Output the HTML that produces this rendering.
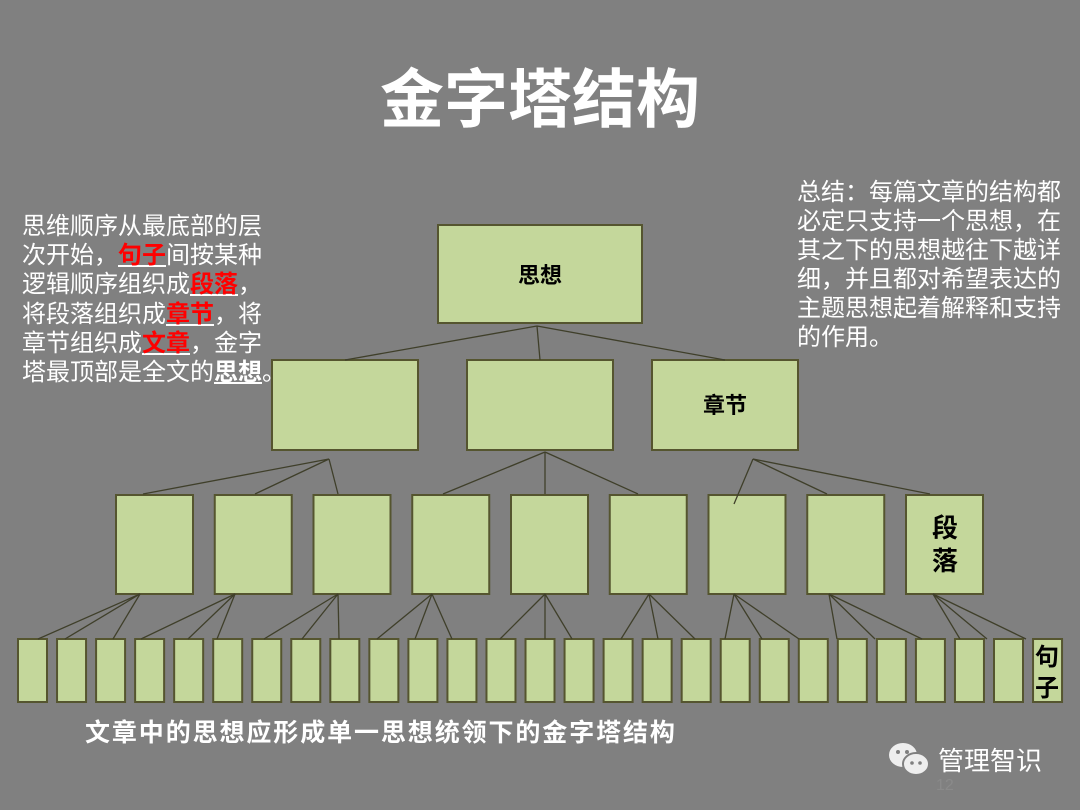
<!DOCTYPE html>
<html><head><meta charset="utf-8"><style>
body{margin:0;width:1080px;height:810px;background:#808080;overflow:hidden;position:relative;font-family:"Liberation Sans","Noto Sans CJK SC",sans-serif;}
.t{position:absolute;white-space:nowrap;}
.r{color:#ff0000;font-weight:bold;text-decoration:underline;text-decoration-color:#fff;}
.u{font-weight:bold;text-decoration:underline;}
</style></head><body>
<svg id="s" width="1080" height="810" style="position:absolute;left:0;top:0">
<g fill="#c4d79b" stroke="#55552f" stroke-width="2">
<rect x="438" y="225" width="204" height="98"/>
<rect x="272" y="360" width="146" height="90"/>
<rect x="467" y="360" width="146" height="90"/>
<rect x="652" y="360" width="146" height="90"/>
</g>
<g id="lv3" fill="#c4d79b" stroke="#55552f" stroke-width="2"></g>
<g id="lv4" fill="#c4d79b" stroke="#55552f" stroke-width="2"></g>
<g id="ln" stroke="#3f3f2a" stroke-width="1.3" fill="none">
<path d="M537 326L345 360M537 326L540 360M537 326L725 360"/>
<path d="M329 459L143 494M329 459L255 494M329 459L338 494"/>
<path d="M545 452L443 494M545 452L545 494M545 452L638 494"/>
<path d="M753 459L734 504M753 459L827 494M753 459L930 494"/>
</g>
<g font-family="Liberation Sans,Noto Sans CJK SC,sans-serif" font-weight="bold" fill="#000" text-anchor="middle">
<text x="540" y="283" font-size="22">思想</text>
<text x="725" y="413" font-size="22">章节</text>
<text x="945" y="537" font-size="26">段</text>
<text x="945" y="570" font-size="26">落</text>
<text x="1047" y="665" font-size="24">句</text>
<text x="1047" y="696" font-size="24">子</text>
</g>
</svg>
<script>
var l3=document.getElementById('lv3'),l4=document.getElementById('lv4'),ln=document.getElementById('ln'),h='',h4='',hl='';
var cx3=[140,235,338,432,545,649,734,829,933];
for(var i=0;i<9;i++){var x=116+i*98.75;h+='<rect x="'+x+'" y="495" width="77" height="99"/>';}
for(var j=0;j<27;j++){var x=18+j*39.04;h4+='<rect x="'+x+'" y="639" width="29" height="63"/>';}
var tg=[[38,65,113],[141,188,217],[264,302,339],[377,415,452],[500,545,572],[621,658,695],[725,762,799],[837,875,922],[960,987,1026]];
for(var i=0;i<9;i++){for(var k=0;k<3;k++)hl+='<path d="M'+cx3[i]+' 594L'+tg[i][k]+' 639"/>';}
l3.innerHTML=h;l4.innerHTML=h4;ln.insertAdjacentHTML('beforeend',hl);
</script>
<div class="t" style="left:0;width:1080px;top:58px;text-align:center;color:#fff;font-size:64px;font-weight:bold;line-height:84px">金字塔结构</div>
<div class="t" style="left:22px;top:212px;color:#fff;font-size:24px;line-height:29.2px">思维顺序从最底部的层<br>次开始，<span class="r">句子</span>间按某种<br>逻辑顺序组织成<span class="r">段落</span>，<br>将段落组织成<span class="r">章节</span>，将<br>章节组织成<span class="r">文章</span>，金字<br>塔最顶部是全文的<span class="u">思想</span>。</div>
<div class="t" style="left:797px;top:178px;color:#fff;font-size:24px;line-height:29px">总结：每篇文章的结构都<br>必定只支持一个思想，在<br>其之下的思想越往下越详<br>细，并且都对希望表达的<br>主题思想起着解释和支持<br>的作用。</div>
<div class="t" style="left:85px;top:716px;color:#fff;font-size:25px;font-weight:bold;letter-spacing:1.9px;line-height:34px">文章中的思想应形成单一思想统领下的金字塔结构</div>
<svg width="50" height="40" style="position:absolute;left:887px;top:740px">
<ellipse cx="16" cy="15" rx="14" ry="12" fill="#eee"/>
<ellipse cx="29" cy="24" rx="13" ry="11" fill="#eee" stroke="#808080" stroke-width="2"/>
<circle cx="11" cy="12" r="2" fill="#808080"/><circle cx="20" cy="12" r="2" fill="#808080"/>
<circle cx="25" cy="23" r="1.8" fill="#808080"/><circle cx="33" cy="23" r="1.8" fill="#808080"/>
</svg>
<div class="t" style="left:938px;top:744px;color:#fff;font-size:26px;line-height:34px">管理智识</div>
<div class="t" style="left:936px;top:777px;color:#8a8a8a;font-size:16px">12</div>
</body></html>
